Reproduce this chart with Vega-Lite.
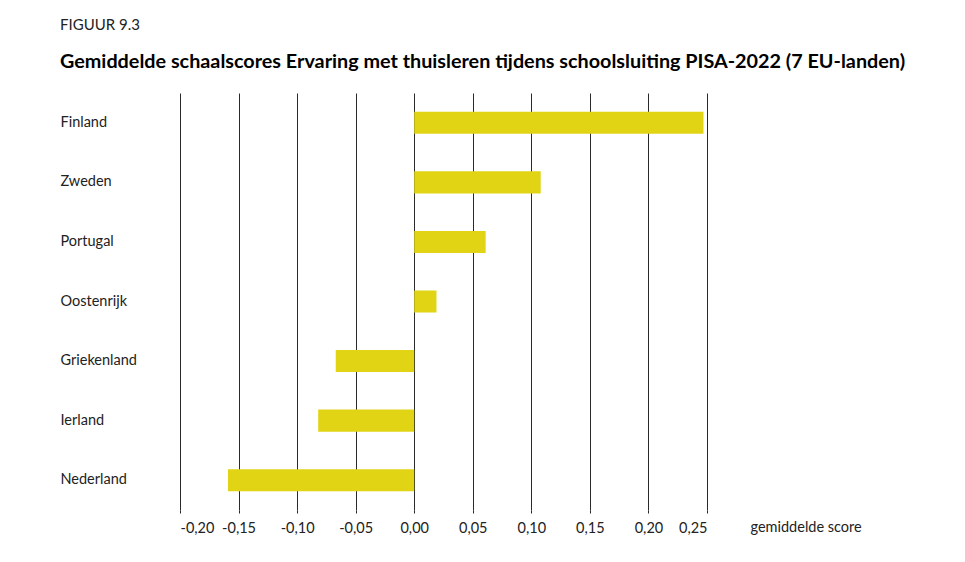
{
  "$schema": "https://vega.github.io/schema/vega-lite/v6.json",
  "autosize": "none",
  "width": 527,
  "height": 417,
  "padding": {"left": 180, "top": 93, "right": 258, "bottom": 52},
  "background": "white",
  "config": {"font": "Lato", "view": {"stroke": null}},
  "title": {
    "text": "FIGUUR 9.3",
    "subtitle": "Gemiddelde schaalscores Ervaring met thuisleren tijdens schoolsluiting PISA-2022 (7 EU-landen)",
    "anchor": "start",
    "frame": "group",
    "dx": -120,
    "offset": 21,
    "font": "Lato",
    "fontSize": 15,
    "fontWeight": "normal",
    "limit": 900,
    "color": "#222222",
    "subtitleFont": "Lato",
    "subtitleFontSize": 19.8,
    "subtitleFontWeight": "bold",
    "subtitleColor": "#000000",
    "subtitlePadding": 19
  },
  "data": {
    "values": [
      {"land": "Finland", "score": 0.247},
      {"land": "Zweden", "score": 0.108},
      {"land": "Portugal", "score": 0.061},
      {"land": "Oostenrijk", "score": 0.019},
      {"land": "Griekenland", "score": -0.067},
      {"land": "Ierland", "score": -0.082},
      {"land": "Nederland", "score": -0.159}
    ]
  },
  "mark": {"type": "bar", "color": "#e0d414"},
  "encoding": {
    "y": {
      "field": "land",
      "type": "nominal",
      "sort": null,
      "scale": {"paddingInner": 0.63, "paddingOuter": 0.315},
      "axis": {
        "title": null,
        "ticks": false,
        "domain": false,
        "labelAlign": "left",
        "labelPadding": 120,
        "labelFontSize": 14.5,
        "labelColor": "#222222",
        "labelFont": "Lato"
      }
    },
    "x": {
      "field": "score",
      "type": "quantitative",
      "scale": {"domain": [-0.2, 0.25], "nice": false},
      "axis": {
        "values": [-0.2, -0.15, -0.1, -0.05, 0, 0.05, 0.1, 0.15, 0.2, 0.25],
        "labelExpr": "replace(replace(format(datum.value, '.2f'), '.', ','), '\u2212', '-')",
        "grid": true,
        "gridColor": "#2a2a2a",
        "gridWidth": 1,
        "gridOpacity": 1,
        "domain": false,
        "ticks": true,
        "tickSize": 3,
        "tickColor": "#2a2a2a",
        "labelPadding": 8,
        "labelFontSize": 14.5,
        "labelColor": "#222222",
        "labelFont": "Lato",
        "title": "gemiddelde score",
        "titleX": 570,
        "titleY": 17,
        "titleAlign": "left",
        "titleBaseline": "middle",
        "titleFontWeight": "normal",
        "titleFontSize": 14.5,
        "titleColor": "#222222",
        "titleFont": "Lato"
      }
    }
  }
}
